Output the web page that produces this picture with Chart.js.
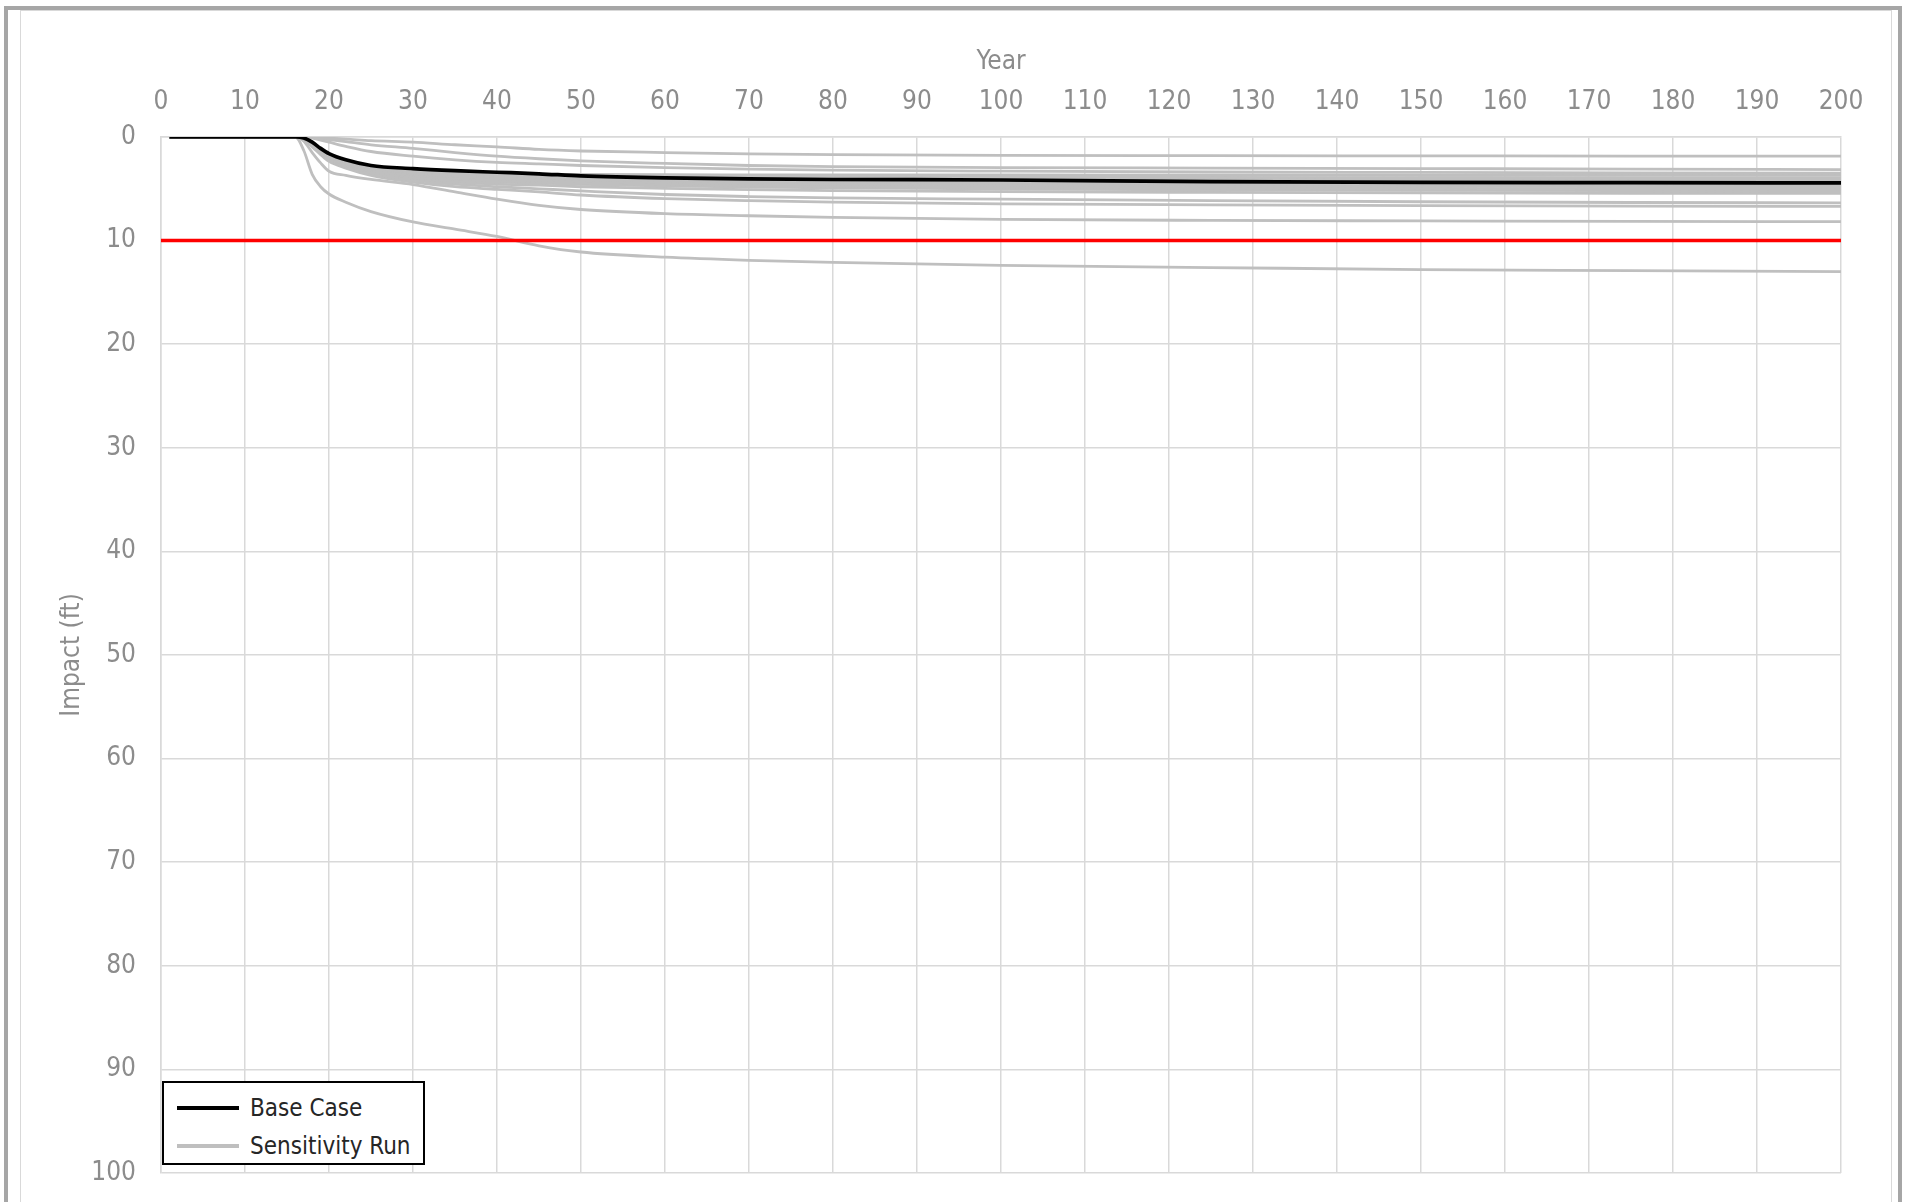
<!DOCTYPE html>
<html>
<head>
<meta charset="utf-8">
<script src="https://cdn.jsdelivr.net/npm/chart.js@4.4.1/dist/chart.umd.min.js"></script>
<style>
  html, body { margin:0; padding:0; background:#fff; }
  body { width:1908px; height:1202px; position:relative; overflow:hidden; }
  #frameOuter { position:absolute; left:4px; top:6px; width:1898px; height:1300px; border:4px solid #a6a6a6; box-sizing:border-box; }
  #frameInner { position:absolute; left:20px; top:10px; width:1872px; height:1300px; border:1px solid #d9d9d9; box-sizing:border-box; }
  #c { position:absolute; left:0; top:0; }
  #legend { position:absolute; left:162px; top:1081px; width:263px; height:84px; box-sizing:border-box; border:2.5px solid #000; background:#fff;
            font-family:"DejaVu Sans Condensed","Liberation Sans Narrow",sans-serif; font-size:24px; color:#262626; white-space:nowrap; }
  .row { position:absolute; left:13px; height:34px; display:flex; align-items:center; }
  .swatch { width:62px; height:3.5px; margin-right:11px; }
</style>
</head>
<body>
<div id="frameOuter"></div>
<div id="frameInner"></div>
<canvas id="c" width="1908" height="1202"></canvas>
<div id="legend"></div>
<script>
// ---- Data ----
const years = [1, 16, 17, 18, 19, 20, 22, 25, 30, 35, 40, 45, 50, 60, 70, 80, 100, 125, 150, 175, 200];

const baseCase = [0, 0, 0.1, 0.5, 1.1, 1.6, 2.2, 2.75, 3.05, 3.25, 3.4, 3.55, 3.75, 3.95, 4.05, 4.1, 4.15, 4.3, 4.38, 4.4, 4.43];

const run01 = [0, 0, 0, 0.03, 0.08, 0.12, 0.2, 0.35, 0.5, 0.75, 0.95, 1.2, 1.35, 1.5, 1.62, 1.7, 1.78, 1.8, 1.82, 1.84, 1.85];
const run02 = [0, 0, 0, 0.05, 0.15, 0.25, 0.45, 0.75, 1.1, 1.5, 1.85, 2.1, 2.3, 2.55, 2.75, 2.85, 2.95, 3.0, 3.05, 3.1, 3.14];
const run03 = [0, 0, 0.02, 0.1, 0.3, 0.5, 0.9, 1.4, 1.85, 2.2, 2.45, 2.6, 2.75, 2.95, 3.1, 3.2, 3.3, 3.38, 3.42, 3.46, 3.5];
const run04 = [0, 0, 0.15, 0.6, 1.2, 1.8, 2.4, 2.85, 3.15, 3.35, 3.5, 3.6, 3.62, 3.64, 3.65, 3.66, 3.67, 3.68, 3.69, 3.7, 3.7];
const run05 = [0, 0, 0.15, 0.65, 1.25, 1.85, 2.5, 2.95, 3.3, 3.5, 3.62, 3.7, 3.74, 3.78, 3.8, 3.83, 3.86, 3.9, 3.92, 3.94, 3.95];
const run06 = [0, 0, 0.15, 0.7, 1.3, 1.9, 2.55, 3.05, 3.4, 3.6, 3.72, 3.8, 3.86, 3.92, 3.97, 4.0, 4.04, 4.08, 4.11, 4.13, 4.15];
const run07 = [0, 0, 0.15, 0.7, 1.35, 1.95, 2.6, 3.1, 3.5, 3.7, 3.82, 3.9, 3.98, 4.05, 4.1, 4.14, 4.18, 4.22, 4.26, 4.28, 4.3];
const run08 = [0, 0, 0.2, 0.75, 1.4, 2.0, 2.65, 3.2, 3.6, 3.8, 3.93, 4.0, 4.1, 4.2, 4.3, 4.36, 4.42, 4.5, 4.55, 4.58, 4.6];
const run09 = [0, 0, 0.2, 0.8, 1.45, 2.05, 2.7, 3.25, 3.7, 3.95, 4.07, 4.15, 4.25, 4.38, 4.47, 4.55, 4.62, 4.7, 4.75, 4.78, 4.8];
const run10 = [0, 0, 0.2, 0.8, 1.5, 2.1, 2.75, 3.35, 3.8, 4.05, 4.2, 4.3, 4.42, 4.55, 4.65, 4.73, 4.82, 4.9, 4.95, 4.98, 5.0];
const run11 = [0, 0, 0.2, 0.85, 1.55, 2.15, 2.8, 3.4, 3.9, 4.2, 4.35, 4.45, 4.58, 4.72, 4.83, 4.92, 5.02, 5.1, 5.15, 5.18, 5.2];
const run12 = [0, 0, 0.2, 0.85, 1.6, 2.2, 2.85, 3.5, 4.0, 4.35, 4.55, 4.65, 4.8, 4.95, 5.08, 5.17, 5.28, 5.35, 5.4, 5.43, 5.45];
const run13 = [0, 0, 0.25, 0.9, 1.6, 2.25, 2.9, 3.55, 4.15, 4.55, 4.8, 5.0, 5.2, 5.55, 5.75, 5.88, 6.0, 6.15, 6.25, 6.32, 6.36];
const run14 = [0, 0, 0.25, 0.95, 1.7, 2.35, 3.0, 3.7, 4.35, 4.8, 5.05, 5.3, 5.6, 5.95, 6.15, 6.28, 6.45, 6.55, 6.62, 6.67, 6.7];
const run15 = [0, 0, 0.4, 1.5, 2.5, 3.3, 3.7, 4.1, 4.6, 5.3, 6.0, 6.6, 7.0, 7.4, 7.6, 7.75, 7.95, 8.05, 8.1, 8.15, 8.17];
const run16 = [0, 0, 1.3, 3.6, 4.8, 5.5, 6.3, 7.2, 8.2, 8.9, 9.6, 10.5, 11.1, 11.6, 11.9, 12.1, 12.4, 12.6, 12.8, 12.9, 13.0];

const sensitivityRuns = [run01, run02, run03, run04, run05, run06, run07, run08, run09, run10, run11, run12, run13, run14, run15, run16];

const thresholdYears = [0, 200];
const thresholdValue = [10, 10];

const xTicks = [0, 10, 20, 30, 40, 50, 60, 70, 80, 90, 100, 110, 120, 130, 140, 150, 160, 170, 180, 190, 200];
const yTicks = [0, 10, 20, 30, 40, 50, 60, 70, 80, 90, 100];

const labelBase = 'Base Case';
const labelRun = 'Sensitivity Run';
const xTitle = 'Year';
const yTitle = 'Impact (ft)';

// ---- Build ----
const toPts = (xs, ys) => xs.map((x, i) => ({x: x, y: ys[i]}));
const FONT = '"DejaVu Sans Condensed","Liberation Sans Narrow",sans-serif';
const GRAY = '#bfbfbf';
const TXT = '#8c8c8c';

const datasets = [];
datasets.push({label: 'Threshold', data: toPts(thresholdYears, thresholdValue), borderColor: '#ff0000', borderWidth: 3.5, order: 0, tension: 0});
datasets.push({label: labelBase, data: toPts(years, baseCase), borderColor: '#000000', borderWidth: 3.7, order: 1, cubicInterpolationMode: 'monotone'});
sensitivityRuns.forEach((r) => datasets.push({label: labelRun, data: toPts(years, r), borderColor: GRAY, borderWidth: 2.8, order: 2, cubicInterpolationMode: 'monotone'}));

new Chart(document.getElementById('c'), {
  type: 'line',
  data: { datasets },
  options: {
    responsive: false,
    animation: false,
    events: [],
    elements: { point: { radius: 0 }, line: { borderCapStyle: 'butt' } },
    layout: { padding: { left: 0, top: 0, right: 67, bottom: 29 } },
    plugins: { legend: { display: false }, tooltip: { enabled: false } },
    scales: {
      x: {
        type: 'linear', position: 'top', min: 0, max: 200,
        afterBuildTicks: (s) => { s.ticks = xTicks.map(v => ({value: v})); },
        afterFit: (s) => { s.height = 137; s.paddingLeft = 0; s.paddingRight = 0; },
        grid: { color: '#d9d9d9', lineWidth: 1.5, drawTicks: false },
        border: { color: '#d9d9d9', width: 1.5 },
        ticks: { color: TXT, font: { family: FONT, size: 26 }, padding: 19, maxRotation: 0, autoSkip: false },
        title: { display: true, text: xTitle, color: TXT, font: { family: FONT, size: 26 }, padding: { top: 47, bottom: 0 } }
      },
      y: {
        type: 'linear', position: 'left', min: 0, max: 100, reverse: true,
        afterBuildTicks: (s) => { s.ticks = yTicks.map(v => ({value: v})); },
        afterFit: (s) => { s.width = 161; s.paddingTop = 0; s.paddingBottom = 0; },
        grid: { color: '#d9d9d9', lineWidth: 1.5, drawTicks: false },
        border: { color: '#d9d9d9', width: 1.5 },
        ticks: { color: TXT, font: { family: FONT, size: 26 }, padding: 25, autoSkip: false },
        title: { display: true, text: yTitle, color: TXT, font: { family: FONT, size: 26 }, padding: { top: 57, bottom: 0 } }
      }
    }
  }
});

// ---- Legend (HTML) ----
const legend = document.getElementById('legend');
[[labelBase, '#000000', 8], [labelRun, GRAY, 46]].forEach(([txt, col, top]) => {
  const row = document.createElement('div');
  row.className = 'row';
  row.style.top = top + 'px';
  const sw = document.createElement('div');
  sw.className = 'swatch';
  sw.style.background = col;
  const t = document.createElement('span');
  t.textContent = txt;
  row.appendChild(sw); row.appendChild(t);
  legend.appendChild(row);
});
</script>
</body>
</html>
